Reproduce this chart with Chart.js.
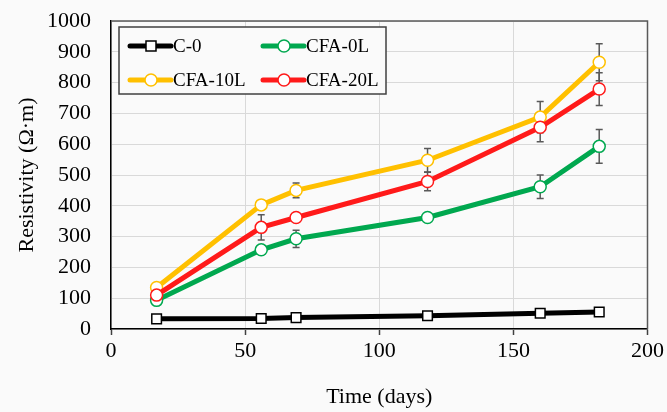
<!DOCTYPE html>
<html>
<head>
<meta charset="utf-8">
<script src="https://cdn.jsdelivr.net/npm/chart.js@4/dist/chart.umd.min.js"></script>
<style>
  html, body { margin: 0; padding: 0; background: #fafafa; }
  #wrap { width: 667px; height: 412px; position: relative; }
</style>
</head>
<body>
<div id="wrap"><canvas id="myChart" width="667" height="412"></canvas></div>
<script>
// values
const days = [17, 56, 69, 118, 160, 182];
const c0 = [33, 34, 37, 43, 51, 55];
const cfa0L = [93, 257, 293, 362, 462, 593];
const cfa10L = [135, 403, 450, 548, 688, 866];
const cfa20L = [110, 330, 362, 479, 655, 779];
// error bar half-lengths (std dev)
const cfa0LErr = [5, 8, 28, 8, 38, 55];
const cfa10LErr = [6, 8, 24, 38, 51, 60];
const cfa20LErr = [5, 41, 8, 30, 47, 53];

const serif = "'Liberation Serif', 'Times New Roman', serif";

const pts = (ys) => days.map((d, i) => ({x: d, y: ys[i]}));

const series = [
  {label: 'C-0', data: c0, err: null, color: '#000000', style: 'rect', order: 3},
  {label: 'CFA-0L', data: cfa0L, err: cfa0LErr, color: '#00a84f', style: 'circle', order: 2},
  {label: 'CFA-10L', data: cfa10L, err: cfa10LErr, color: '#ffc000', style: 'circle', order: 1},
  {label: 'CFA-20L', data: cfa20L, err: cfa20LErr, color: '#ff1a1a', style: 'circle', order: 0},
];

const bgPlugin = {
  id: 'bg',
  beforeDraw(chart) {
    const ctx = chart.ctx;
    ctx.save();
    ctx.fillStyle = '#fafafa';
    ctx.fillRect(0, 0, chart.width, chart.height);
    ctx.restore();
  }
};

// error bars, drawn under the lines
const errPlugin = {
  id: 'errbars',
  beforeDatasetsDraw(chart) {
    const ctx = chart.ctx;
    const xs = chart.scales.x, ys = chart.scales.y;
    ctx.save();
    ctx.strokeStyle = '#595959';
    ctx.lineWidth = 1.5;
    series.forEach(s => {
      if (!s.err) return;
      s.data.forEach((v, i) => {
        const px = xs.getPixelForValue(days[i]);
        const top = ys.getPixelForValue(v + s.err[i]);
        const bot = ys.getPixelForValue(v - s.err[i]);
        ctx.beginPath();
        ctx.moveTo(px, top); ctx.lineTo(px, bot);
        ctx.moveTo(px - 3.5, top); ctx.lineTo(px + 3.5, top);
        ctx.moveTo(px - 3.5, bot); ctx.lineTo(px + 3.5, bot);
        ctx.stroke();
      });
    });
    ctx.restore();
  }
};

// frame on top/right + boxed legend
const framePlugin = {
  id: 'frame',
  afterDraw(chart) {
    const ctx = chart.ctx;
    const a = chart.chartArea;
    ctx.save();
    ctx.strokeStyle = '#595959';
    ctx.lineWidth = 1.5;
    ctx.beginPath();
    ctx.moveTo(a.left, a.top); ctx.lineTo(a.right, a.top); ctx.lineTo(a.right, a.bottom);
    ctx.stroke();

    // legend box
    const lx = a.left + 8, ly = a.top + 6, lw = 267, lh = 67;
    ctx.fillStyle = '#fafafa';
    ctx.fillRect(lx, ly, lw, lh);
    ctx.strokeStyle = '#404040';
    ctx.lineWidth = 1.5;
    ctx.strokeRect(lx, ly, lw, lh);

    ctx.font = '19px ' + serif;
    ctx.textBaseline = 'middle';
    series.forEach((s, i) => {
      const col = i % 2, row = Math.floor(i / 2);
      const x0 = lx + 11 + col * 133;
      const y0 = ly + 19 + row * 34;
      ctx.strokeStyle = s.color;
      ctx.lineWidth = 5;
      ctx.lineCap = 'round';
      ctx.beginPath();
      ctx.moveTo(x0, y0); ctx.lineTo(x0 + 41, y0);
      ctx.stroke();
      ctx.fillStyle = '#ffffff';
      ctx.lineWidth = 1.5;
      ctx.strokeStyle = s.style === 'rect' ? '#000000' : s.color;
      ctx.beginPath();
      if (s.style === 'rect') {
        ctx.rect(x0 + 21 - 5, y0 - 5, 10, 10);
      } else {
        ctx.arc(x0 + 21, y0, 6, 0, Math.PI * 2);
      }
      ctx.fill(); ctx.stroke();
      ctx.fillStyle = '#000000';
      ctx.fillText(s.label, x0 + 43, y0 + 1);
    });
    ctx.restore();
  }
};

const myChart = new Chart(document.getElementById('myChart').getContext('2d'), {
  type: 'line',
  data: {
    datasets: series.map(s => ({
      label: s.label,
      data: pts(s.data),
      borderColor: s.color,
      borderWidth: 5,
      pointStyle: s.style,
      pointRadius: s.style === 'rect' ? 6.8 : 6,
      pointBorderWidth: 1.5,
      pointBorderColor: s.style === 'rect' ? '#000000' : s.color,
      pointBackgroundColor: '#ffffff',
      tension: 0,
      order: s.order,
    }))
  },
  options: {
    responsive: false,
    animation: false,
    layout: {padding: {top: 21, right: 19, left: 0, bottom: 0}},
    plugins: {
      legend: {display: false},
      tooltip: {enabled: false},
    },
    scales: {
      x: {
        type: 'linear',
        min: 0, max: 200,
        ticks: {stepSize: 50, color: '#000', padding: 3, font: {family: serif, size: 22}},
        grid: {color: '#d9d9d9', lineWidth: 1, tickLength: 6, tickColor: '#404040', tickWidth: 1.5},
        border: {color: '#000', width: 1.5},
        title: {display: true, text: 'Time (days)', color: '#000', font: {family: serif, size: 22}, padding: {top: 4, bottom: 2}},
        afterFit(scale) { scale.height = 83; },
      },
      y: {
        min: 0, max: 1000,
        ticks: {stepSize: 100, color: '#000', padding: 20, font: {family: serif, size: 22},
          callback: (v) => String(v)},
        grid: {color: '#d9d9d9', lineWidth: 1, drawTicks: false},
        border: {color: '#000', width: 1.5},
        title: {display: true, text: 'Resistivity (Ω·m)', color: '#000', font: {family: serif, size: 22}, padding: {top: 14, bottom: 0}},
        afterFit(scale) { scale.width = 111; scale.paddingTop = 0; scale.paddingBottom = 0; },
      }
    }
  },
  plugins: [bgPlugin, errPlugin, framePlugin]
});
</script>
</body>
</html>
